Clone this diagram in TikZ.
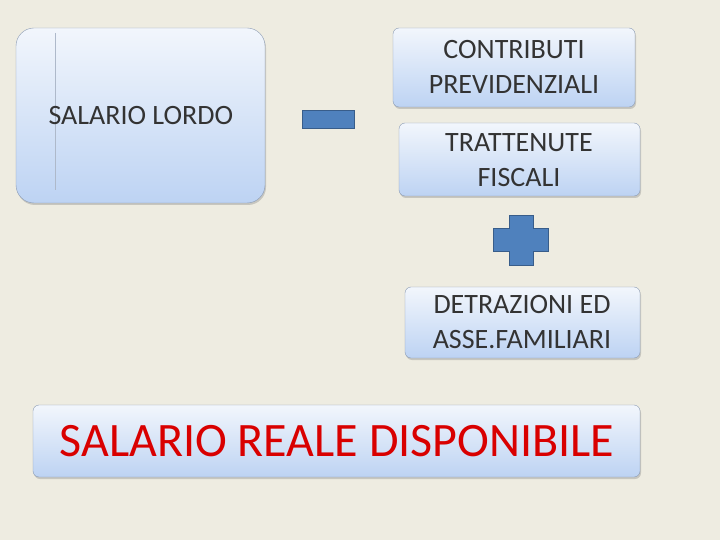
\documentclass[tikz,border=0pt]{standalone}
\usepackage{fontspec}
\setmainfont{Carlito}
\usetikzlibrary{positioning, shadows}
\definecolor{bgcol}{HTML}{EEECE1}
\definecolor{boxtop}{HTML}{F2F6FC}
\definecolor{boxbot}{HTML}{BDD3F3}
\definecolor{boxline}{HTML}{8B9BB3}
\definecolor{signcol}{HTML}{4F81BD}
\definecolor{signline}{HTML}{385D8A}

\begin{document}
\begin{tikzpicture}[x=1pt, y=-1pt,
    card/.style={draw=boxline, rounded corners=6pt, top color=boxtop, bottom color=boxbot,
      drop shadow={shadow xshift=1pt, shadow yshift=-2pt, opacity=0.35}},
    cardtext/.style={font=\fontsize{28}{35}\selectfont, text=black!80, align=center},
    sign/.style={fill=signcol, draw=signline, line width=1pt}]
    % Background
    \fill[bgcol] (0,0) rectangle (720,540);
    \useasboundingbox (0,0) rectangle (720,540);

    % Gross salary
    \draw[card, rounded corners=18pt] (16,28) rectangle (265,203);
    \draw[boxline!70] (55,33) -- (55,190);
    \node[cardtext, anchor=west] (lordo) at (45,116) {SALARIO LORDO};

    % Minus sign
    \draw[sign] (302,111) rectangle (354,129);

    % Deductions
    \draw[card] (393,28) rectangle (635,107);
    \node[cardtext] (contributi) at (514,67) {CONTRIBUTI\\PREVIDENZIALI};
    \draw[card] (399,123) rectangle (640,196);
    \node[cardtext] (trattenute) at (519,160) {TRATTENUTE\\FISCALI};

    % Plus sign
    \draw[sign] (509,216) -- (533,216) -- (533,229) -- (548,229) -- (548,251) -- (533,251)
      -- (533,265) -- (509,265) -- (509,251) -- (493,251) -- (493,229) -- (509,229) -- cycle;

    % Allowances
    \draw[card] (405,287) rectangle (640,358);
    \node[cardtext] (detrazioni) at (522,322) {DETRAZIONI ED\\ASSE.FAMILIARI};

    % Result
    \draw[card] (33,405) rectangle (640,477);
    \node[font=\fontsize{48}{50}\selectfont, text=red!85!black] (reale) at (337,441)
      {SALARIO REALE DISPONIBILE};
\end{tikzpicture}
\end{document}
